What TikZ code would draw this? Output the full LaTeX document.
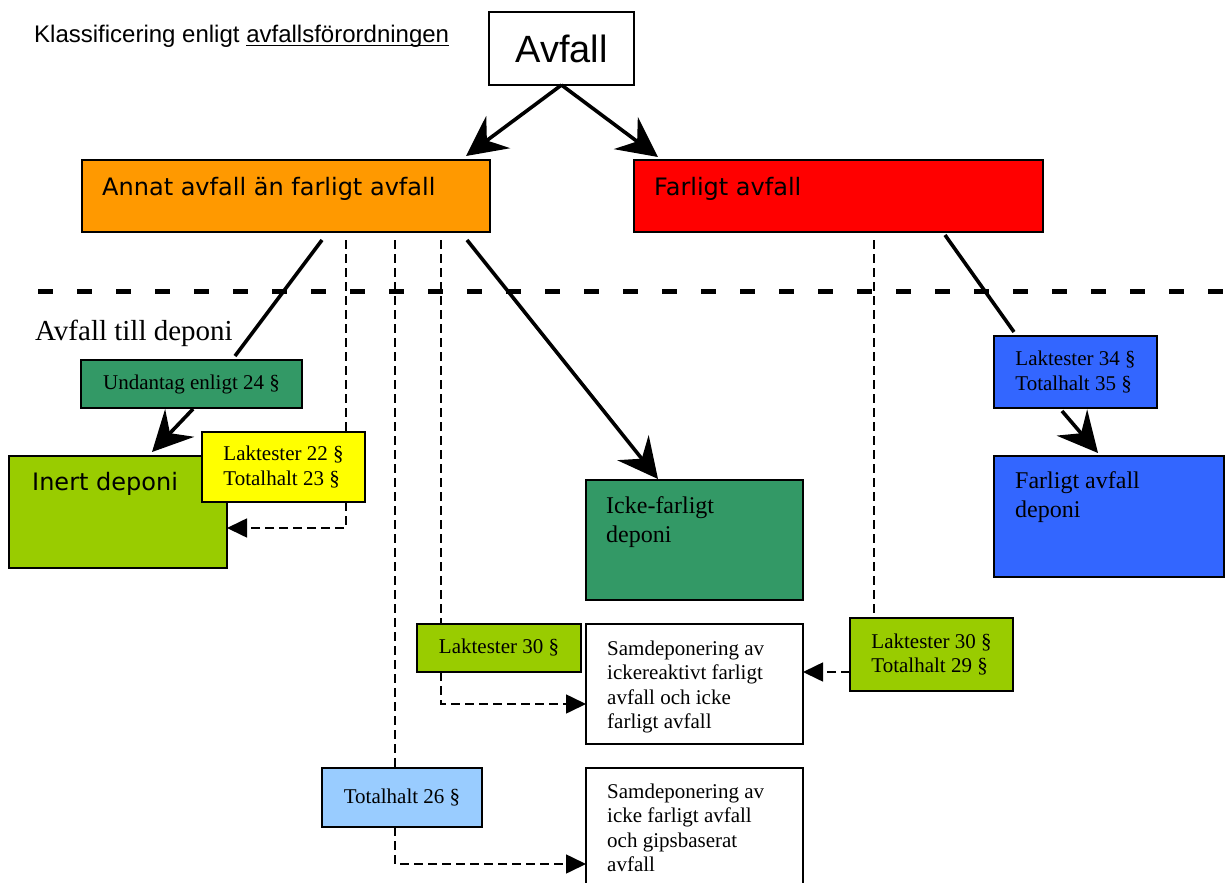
\documentclass[tikz,border=0pt]{standalone}
\usepackage{fontspec}
\setmainfont{Liberation Serif}
\newfontfamily\arialfont{Liberation Sans}
\newfontfamily\verdanafont{DejaVu Sans}
\usetikzlibrary{arrows.meta}
\newcommand{\ulined}[1]{\setbox0\hbox{#1}\rlap{\rule[-3pt]{\wd0}{1.3pt}}\box0}

\definecolor{orangebox}{HTML}{FF9900}
\definecolor{redbox}{HTML}{FF0000}
\definecolor{greenbox}{HTML}{339966}
\definecolor{limebox}{HTML}{99CC00}
\definecolor{yellowbox}{HTML}{FFFF00}
\definecolor{skybox}{HTML}{99CCFF}
\definecolor{bluebox}{HTML}{3366FF}

\begin{document}
\begin{tikzpicture}[x=1pt,y=-1pt,
  box/.style={draw,line width=1.6pt,anchor=north west,inner sep=0pt,outer sep=0pt},
  smallserif/.style={font=\fontsize{21}{24.5}\selectfont,align=left},
  bigserif/.style={font=\fontsize{24}{28.5}\selectfont,align=left,anchor=north west,inner sep=0pt},
  boxserif/.style={font=\fontsize{21}{24.5}\selectfont,align=left,anchor=north west,inner sep=0pt},
  boxsans/.style={font=\verdanafont\fontsize{24}{28}\selectfont,anchor=base west,inner sep=0pt},
  solidline/.style={line width=3.6pt},
  bigarrow/.style={line width=3.6pt,-{Stealth[length=40pt,width=40pt,inset=14pt]}},
  dashline/.style={line width=1.6pt,dash pattern=on 9pt off 5pt},
  dasharrow/.style={dashline,-{Triangle[length=20pt,width=19pt]}}]
\useasboundingbox (0,0) rectangle (1227,883);

% rubriker
\node[font=\arialfont\fontsize{24}{28}\selectfont,anchor=base west,inner sep=0pt] (rubrik) at (34,43) {Klassificering enligt \ulined{avfallsförordningen}};
\node[font=\fontsize{29}{33}\selectfont,anchor=base west,inner sep=0pt] (deponirubrik) at (35,340) {Avfall till deponi};
\draw[line width=5pt,dash pattern=on 15pt off 24pt] (38,291) -- (1227,291);

% lådor
\node[box,fill=white,minimum width=145pt,minimum height=73pt,font=\arialfont\fontsize{38}{42}\selectfont] (avfall) at (489,12) {Avfall};
\node[box,fill=orangebox,minimum width=408pt,minimum height=72pt] (annat) at (82,160) {};
\node[boxsans] (annat-text) at ([shift={(20pt,-35pt)}]annat.north west) {Annat avfall än farligt avfall};
\node[box,fill=redbox,minimum width=409pt,minimum height=72pt] (farligt) at (634,160) {};
\node[boxsans] (farligt-text) at ([shift={(20pt,-35pt)}]farligt.north west) {Farligt avfall};

\node[box,fill=greenbox,minimum width=221pt,minimum height=48pt,smallserif] (undantag) at (81,360) {Undantag enligt 24 §};
\node[box,fill=limebox,minimum width=218pt,minimum height=112pt] (inert) at (9,456) {};
\node[boxsans] (inert-text) at ([shift={(23pt,-34pt)}]inert.north west) {Inert deponi};
\node[box,fill=yellowbox,minimum width=163pt,minimum height=70pt,smallserif] (lak22) at (202,432) {Laktester 22 §\\Totalhalt 23 §};

\node[box,fill=greenbox,minimum width=217pt,minimum height=120pt] (icke) at (586,480) {};
\node[bigserif] (icke-text) at ([shift={(20pt,-16.6pt)}]icke.north west) {Icke-farligt\\deponi};
\node[box,fill=limebox,minimum width=164pt,minimum height=48pt,smallserif] (lak30) at (417,624) {Laktester 30 §};
\node[box,fill=white,minimum width=217pt,minimum height=120pt] (samdep1) at (586,624) {};
\node[boxserif] (samdep1-text) at ([shift={(21pt,-16.7pt)}]samdep1.north west) {Samdeponering av\\ickereaktivt farligt\\avfall och icke\\farligt avfall};
\node[box,fill=skybox,minimum width=160pt,minimum height=59pt,smallserif] (tot26) at (322,768) {Totalhalt 26 §};
\node[box,fill=white,minimum width=217pt,minimum height=127pt] (samdep2) at (586,768) {};
\node[boxserif] (samdep2-text) at ([shift={(21pt,-15.7pt)}]samdep2.north west) {Samdeponering av\\icke farligt avfall\\och gipsbaserat\\avfall};

\node[box,fill=bluebox,minimum width=163pt,minimum height=72pt,smallserif] (lak34) at (994,336) {Laktester 34 §\\Totalhalt 35 §};
\node[box,fill=bluebox,minimum width=230pt,minimum height=121pt] (fadeponi) at (994,456) {};
\node[bigserif] (fadeponi-text) at ([shift={(21pt,-15.6pt)}]fadeponi.north west) {Farligt avfall\\deponi};
\node[box,fill=limebox,minimum width=163pt,minimum height=73pt,smallserif] (lak30b) at (850,618) {Laktester 30 §\\Totalhalt 29 §};

% fästpunkter under lådorna
\coordinate (annat-a) at ([shift={(240pt,-8pt)}]annat.south west);
\coordinate (annat-b) at ([shift={(264pt,-8pt)}]annat.south west);
\coordinate (annat-c) at ([shift={(313pt,-8pt)}]annat.south west);
\coordinate (annat-d) at ([shift={(359pt,-8pt)}]annat.south west);
\coordinate (annat-e) at ([shift={(385pt,-8pt)}]annat.south west);
\coordinate (farligt-a) at ([shift={(240pt,-8pt)}]farligt.south west);
\coordinate (farligt-b) at ([shift={(311pt,-3pt)}]farligt.south west);

% pilar
\draw[bigarrow] (avfall.south) -- ([shift={(-24pt,4pt)}]annat.north east);
\draw[bigarrow] (avfall.south) -- ([shift={(24pt,3pt)}]farligt.north west);
\draw[solidline] (annat-a) -- ([shift={(154pt,4pt)}]undantag.north west);
\draw[bigarrow] ([shift={(112pt,-1pt)}]undantag.south west) -- ([shift={(143pt,4pt)}]inert.north west);
\draw[bigarrow] (annat-e) -- ([shift={(72pt,1pt)}]icke.north west);
\draw[solidline] (farligt-b) -- ([shift={(20pt,4pt)}]lak34.north west);
\draw[bigarrow] ([shift={(68pt,-3pt)}]lak34.south west) -- ([shift={(104pt,3pt)}]fadeponi.north west);

% streckade
\draw[dashline] (annat-b) -- (annat-b |- lak22.north);
\draw[dasharrow] (annat-b |- lak22.south) |- ([yshift=-16pt]inert.east);
\draw[dashline] (annat-c) -- (annat-c |- tot26.north);
\draw[dasharrow] (annat-c |- tot26.south) |- ([yshift=-96pt]samdep2.north west);
\draw[dashline] (annat-d) -- (annat-d |- lak30.north);
\draw[dasharrow] (annat-d |- lak30.south) |- ([yshift=-80pt]samdep1.north west);
\draw[dashline] (farligt-a) -- (farligt-a |- lak30b.north);
\draw[dasharrow] ([yshift=-54pt]lak30b.north west) -- ([yshift=-48pt]samdep1.north east);
\end{tikzpicture}
\end{document}
